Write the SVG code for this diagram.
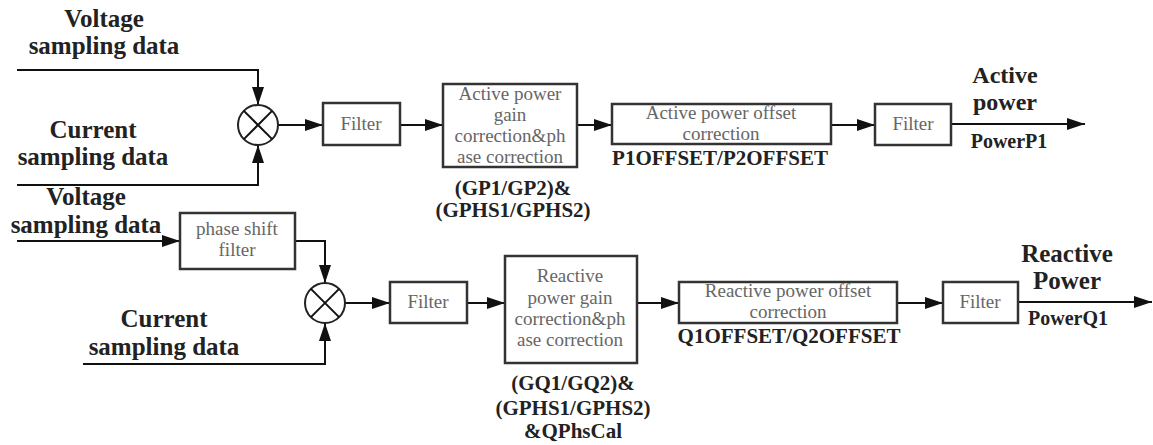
<svg xmlns="http://www.w3.org/2000/svg" width="1153" height="445" viewBox="0 0 1153 445">
<defs>
<marker id="arr" markerUnits="userSpaceOnUse" markerWidth="18" markerHeight="12" refX="18" refY="6" orient="auto">
<path d="M0,0 L18,6 L0,12 z" fill="#111"/>
</marker>
<style>
text{font-family:'Liberation Serif','Times New Roman','DejaVu Serif',serif}
.box{fill:#fff;stroke:#333;stroke-width:2.5}
.bt{font-size:19px;fill:#666;text-anchor:middle}
.lb{font-weight:bold;font-size:25px;fill:#222;text-anchor:middle}
.pl{font-weight:bold;font-size:21px;fill:#222;text-anchor:middle}
.po{font-weight:bold;font-size:20px;fill:#222;text-anchor:middle}
.ln{fill:none;stroke:#111;stroke-width:2}
.arw{fill:none;stroke:#111;stroke-width:2;marker-end:url(#arr)}
.mx{fill:#fff;stroke:#222;stroke-width:2}
</style>
</defs>
<rect width="1153" height="445" fill="#fff"/>

<g id="labels">
<text class="lb" x="104" y="27">Voltage</text>
<text class="lb" x="104" y="54">sampling data</text>
<text class="lb" x="93" y="138">Current</text>
<text class="lb" x="93" y="165">sampling data</text>
<text class="lb" x="86" y="205">Voltage</text>
<text class="lb" x="86" y="233">sampling data</text>
<text class="lb" x="164" y="327">Current</text>
<text class="lb" x="164" y="355">sampling data</text>
</g>

<g id="connectors">
<polyline class="arw" points="17,70 258,70 258,105"/>
<polyline class="arw" points="17,185 258,185 258,145"/>
<line class="arw" x1="278" y1="125" x2="323" y2="125"/>
<line class="arw" x1="400" y1="125" x2="443" y2="125"/>
<line class="arw" x1="577" y1="125" x2="612" y2="125"/>
<line class="arw" x1="831" y1="125" x2="875" y2="125"/>
<line class="arw" x1="951" y1="124" x2="1085" y2="124"/>
<line class="arw" x1="17" y1="241" x2="180" y2="241"/>
<polyline class="arw" points="295,241 325,241 325,283"/>
<polyline class="arw" points="83,364 325,364 325,323"/>
<line class="arw" x1="345" y1="303" x2="390" y2="303"/>
<line class="arw" x1="467" y1="303" x2="505" y2="303"/>
<line class="arw" x1="637" y1="303" x2="679" y2="303"/>
<line class="arw" x1="897" y1="303" x2="943" y2="303"/>
<line class="arw" x1="1018" y1="302" x2="1152" y2="302"/>
</g>

<g id="mult1">
<circle class="mx" cx="258" cy="125" r="20"/>
<line class="ln" x1="243.9" y1="110.9" x2="272.1" y2="139.1"/>
<line class="ln" x1="272.1" y1="110.9" x2="243.9" y2="139.1"/>
</g>

<g id="filter1">
<rect class="box" x="323" y="103" width="77" height="42"/>
<text class="bt" x="361" y="130">Filter</text>
</g>

<g id="gainP">
<rect class="box" x="443" y="84" width="134" height="83"/>
<text class="bt" x="510" y="100">Active power</text>
<text class="bt" x="510" y="121">gain</text>
<text class="bt" x="510" y="142">correction&amp;ph</text>
<text class="bt" x="510" y="163">ase correction</text>
<text class="pl" x="513" y="195">(GP1/GP2)&amp;</text>
<text class="pl" x="513" y="217">(GPHS1/GPHS2)</text>
</g>

<g id="offsetP">
<rect class="box" x="612" y="104" width="219" height="40"/>
<text class="bt" x="721" y="119">Active power offset</text>
<text class="bt" x="721" y="140">correction</text>
<text class="pl" x="720" y="165">P1OFFSET/P2OFFSET</text>
</g>

<g id="filter2">
<rect class="box" x="875" y="104" width="76" height="41"/>
<text class="bt" x="913" y="130">Filter</text>
</g>

<g id="outP">
<text class="lb" x="1005" y="83" style="font-size:24px">Active</text>
<text class="lb" x="1005" y="110" style="font-size:24px">power</text>
<text class="po" x="1009" y="148">PowerP1</text>
</g>

<g id="phaseshift">
<rect class="box" x="180" y="213" width="115" height="56"/>
<text class="bt" x="237" y="235">phase shift</text>
<text class="bt" x="237" y="256">filter</text>
</g>

<g id="mult2">
<circle class="mx" cx="325" cy="303" r="20"/>
<line class="ln" x1="310.9" y1="288.9" x2="339.1" y2="317.1"/>
<line class="ln" x1="339.1" y1="288.9" x2="310.9" y2="317.1"/>
</g>

<g id="filter3">
<rect class="box" x="390" y="282" width="77" height="41"/>
<text class="bt" x="428" y="308">Filter</text>
</g>

<g id="gainQ">
<rect class="box" x="505" y="256" width="132" height="107"/>
<text class="bt" x="570" y="282">Reactive</text>
<text class="bt" x="570" y="304">power gain</text>
<text class="bt" x="570" y="325">correction&amp;ph</text>
<text class="bt" x="570" y="346">ase correction</text>
<text class="pl" x="573" y="390">(GQ1/GQ2)&amp;</text>
<text class="pl" x="573" y="415">(GPHS1/GPHS2)</text>
<text class="pl" x="573" y="438">&amp;QPhsCal</text>
</g>

<g id="offsetQ">
<rect class="box" x="679" y="282" width="218" height="41"/>
<text class="bt" x="788" y="297">Reactive power offset</text>
<text class="bt" x="788" y="318">correction</text>
<text class="pl" x="789" y="343">Q1OFFSET/Q2OFFSET</text>
</g>

<g id="filter4">
<rect class="box" x="943" y="282" width="75" height="41"/>
<text class="bt" x="980" y="308">Filter</text>
</g>

<g id="outQ">
<text class="lb" x="1067" y="262">Reactive</text>
<text class="lb" x="1067" y="289">Power</text>
<text class="po" x="1068" y="325">PowerQ1</text>
</g>
</svg>
